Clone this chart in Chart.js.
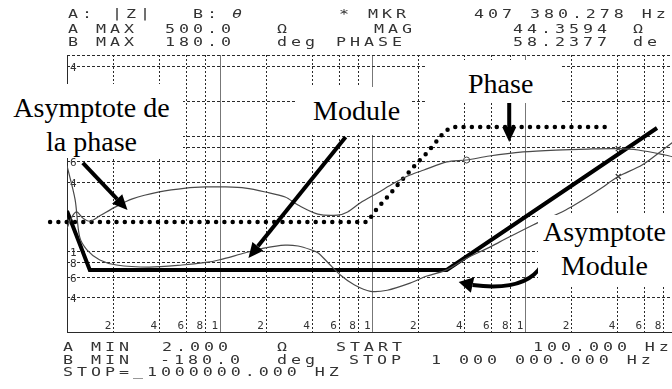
<!DOCTYPE html>
<html>
<head>
<meta charset="utf-8">
<script src="https://cdn.jsdelivr.net/npm/chart.js@4.4.1/dist/chart.umd.min.js"></script>
<style>
  html, body { margin:0; padding:0; background:#fff; overflow:hidden; width:672px; height:389px; }
  #wrap { position:absolute; left:0; top:0; width:683px; height:389px; }
  .lcd { position:absolute; font-family:'DejaVu Sans Mono', monospace; font-size:11.5px; line-height:1;
         letter-spacing:2.72px; transform:scaleX(1.45); transform-origin:0 0; color:#333; white-space:pre; }
  .note { position:absolute; background:#fff; font-family:'Liberation Serif', 'Times New Roman', serif;
          font-size:28px; line-height:34px; color:#000; white-space:nowrap; box-sizing:border-box; }
</style>
</head>
<body>
<div id="wrap"><canvas id="chart"></canvas></div>

<!-- analyzer header -->
<span class="lcd" style="left:68px;top:8.7px">A:</span>
<span class="lcd" style="left:112px;top:8.7px">|Z|</span>
<span class="lcd" style="left:193px;top:8.7px">B:</span>
<span class="lcd" style="left:232px;top:8.7px"><i>θ</i></span>
<span class="lcd" style="left:339px;top:8.7px">*</span>
<span class="lcd" style="left:368px;top:8.7px">MKR</span>
<span class="lcd" style="left:474px;top:8.7px">407 380.278 Hz</span>

<span class="lcd" style="left:68px;top:23.7px">A MAX</span>
<span class="lcd" style="left:165px;top:23.7px">500.0</span>
<span class="lcd" style="left:277px;top:23.7px">Ω</span>
<span class="lcd" style="left:374px;top:23.7px">MAG</span>
<span class="lcd" style="left:513px;top:23.7px">44.3594</span>
<span class="lcd" style="left:633px;top:23.7px">Ω</span>

<span class="lcd" style="left:68px;top:37px">B MAX</span>
<span class="lcd" style="left:165px;top:37px">180.0</span>
<span class="lcd" style="left:277px;top:37px">deg</span>
<span class="lcd" style="left:336px;top:37px">PHASE</span>
<span class="lcd" style="left:513px;top:37px">58.2377</span>
<span class="lcd" style="left:633px;top:37px">de</span>

<!-- analyzer footer -->
<span class="lcd" style="left:63px;top:342px">A MIN</span>
<span class="lcd" style="left:162px;top:342px">2.000</span>
<span class="lcd" style="left:277px;top:342px">Ω</span>
<span class="lcd" style="left:336px;top:342px">START</span>
<span class="lcd" style="left:533px;top:342px">100.000 Hz</span>

<span class="lcd" style="left:63px;top:355px">B MIN</span>
<span class="lcd" style="left:160px;top:355px">-180.0</span>
<span class="lcd" style="left:277px;top:355px">deg</span>
<span class="lcd" style="left:349px;top:355px">STOP</span>
<span class="lcd" style="left:431px;top:355px">1 000 000.000 Hz</span>

<span class="lcd" style="left:63px;top:367px">STOP=_1000000.000 HZ</span>

<!-- hand-made annotations -->
<div class="note" style="left:0;top:84px;width:183px;height:74px;padding-top:7px;text-align:center">Asymptote de<br>la phase</div>
<div class="note" style="left:297px;top:87px;width:113px;height:48px;padding-top:6.5px;padding-left:16px">Module</div>
<div class="note" style="left:425px;top:60px;width:135px;height:43px;padding-top:6.5px;padding-left:43px">Phase</div>
<div class="note" style="left:538px;top:214.5px;width:133px;height:70px;text-align:center">Asymptote<br>Module</div>

<script>
// sweep 100 Hz .. 1 MHz
const phaseFreq = [100, 108, 116, 127, 141, 164, 205, 268, 402, 601, 811, 1094, 1475, 1990, 2683, 3258, 4393,
                   5926, 6883, 8357, 10780, 13890, 17650, 21760, 30690, 41400, 58360, 97000, 158900, 260400,
                   407380, 549900, 823700, 1000000];
const phaseDeg = [-45, -30, -24, -32, -36, -29, -18, -7, 2, 7, 8.5, 8.5, 7, 2, -4.6, -15, -26.7,
                  -28, -24, -12, 0.6, 13.6, 24, 30.5, 41, 43.5, 48.7, 54, 56.5, 57.8,
                  58.24, 56.5, 50, 46];

const magFreq = [100, 113, 121, 135, 164, 211, 345, 566, 811, 986, 1475, 1990, 2683, 3258, 3957, 4393,
                 5105, 6198, 7640, 9710, 12510, 17650, 22750, 30690, 41400, 58360, 67800, 112700, 184600,
                 302600, 407380, 583600, 823700, 1000000];
const magOhm = [55, 28, 13.3, 10.3, 8.4, 7.6, 7.3, 7.6, 8.0, 8.4, 9.7, 10.7, 11.3, 11.1, 10.3, 9.7,
                8.0, 6.2, 5.1, 4.5, 4.6, 5.3, 6.1, 6.9, 8.7, 10.8, 12.0, 16.9, 22.8,
                33.9, 44.36, 55.8, 78, 95];

// asymptotes drawn by hand on the print
const phaseAsymFreq = [77.5, 9280, 10780, 12890, 14970, 17390, 19600, 22750, 26420, 29790, 34060, 335700];
const phaseAsymDeg = [-37, -37, -19, -2, 13.6, 27.9, 39.6, 52.6, 68.2, 81.2, 86.4, 86.4];
const magAsymFreq = [100, 141, 30690, 731000];
const magAsymOhm = [22.3, 6.88, 6.88, 116.7];

const xTicks = [100, 200, 400, 600, 800, 1e3, 2e3, 4e3, 6e3, 8e3, 1e4, 2e4, 4e4, 6e4, 8e4,
                1e5, 2e5, 4e5, 6e5, 8e5, 1e6];
const decades = [1e3, 1e4, 1e5];
const yTicks = [2, 4, 6, 8, 10, 20, 40, 60, 80, 100, 200, 400, 500];

// arrows as [freq, ohm] pairs: start, tip
const arrows = [
    [[127, 58.1], [249, 22.8]],
    [[6680, 97.6], [1543, 8.75]],
    [[78700, 216.7], [78700, 88.3]]
];
// curved one: start, control, head base, tip
const curvedArrow = [[128900, 7.6], [101500, 4.44], [45290, 5.1], [36730, 5.42]];

const pts = (xs, ys) => xs.map((v, i) => ({x: v, y: ys[i]}));
const lcdFont = {family: 'DejaVu Sans Mono', size: 11};

function drawHead(ctx, base, tip, half) {
    let dx = tip[0] - base[0], dy = tip[1] - base[1];
    let l = Math.hypot(dx, dy);
    let nx = -dy / l, ny = dx / l;
    ctx.beginPath();
    ctx.moveTo(tip[0], tip[1]);
    ctx.lineTo(base[0] + nx * half, base[1] + ny * half);
    ctx.lineTo(base[0] - nx * half, base[1] - ny * half);
    ctx.closePath();
    ctx.fill();
}

// dotted screen grid + frequency digits, placed with the chart's scales
const gridPlugin = {
    id: 'screenGrid',
    beforeDatasetsDraw(chart) {
        let ctx = chart.ctx, a = chart.chartArea, x = chart.scales.x, y = chart.scales.y;
        let line = (x1, y1, x2, y2) => { ctx.beginPath(); ctx.moveTo(x1, y1); ctx.lineTo(x2, y2); ctx.stroke(); };
        ctx.save();
        ctx.lineWidth = 1;
        ctx.strokeStyle = '#777';
        decades.forEach(v => {
            let px = Math.round(x.getPixelForValue(v)) + 0.5;
            line(px, a.top, px, a.bottom);
        });
        ctx.strokeStyle = '#2a2a2a';
        ctx.setLineDash([2, 2]);
        xTicks.forEach(v => {
            if (decades.includes(v)) return;
            let px = Math.round(x.getPixelForValue(v)) + 0.5;
            line(px, a.top, px, a.bottom);
        });
        ctx.setLineDash([3, 2]);
        yTicks.forEach(v => {
            let py = Math.round(y.getPixelForValue(v)) + 0.5;
            line(a.left, py, a.right, py);
        });
        ctx.setLineDash([]);
        ctx.fillStyle = '#333';
        ctx.font = '11px "DejaVu Sans Mono"';
        ctx.textAlign = 'center';
        ctx.textBaseline = 'middle';
        xTicks.forEach(v => {
            if (v === 100 || v === 1e6) return;
            ctx.fillText(String(v)[0], x.getPixelForValue(v) - 5, a.bottom - 6);
        });
        ctx.restore();
    }
};

const arrowPlugin = {
    id: 'arrows',
    afterDatasetsDraw(chart) {
        let ctx = chart.ctx, x = chart.scales.x, y = chart.scales.y;
        let px = p => [x.getPixelForValue(p[0]), y.getPixelForValue(p[1])];
        ctx.save();
        ctx.strokeStyle = '#000';
        ctx.fillStyle = '#000';
        ctx.lineWidth = 4;
        arrows.forEach(a => {
            let s = px(a[0]), t = px(a[1]);
            let dx = t[0] - s[0], dy = t[1] - s[1], l = Math.hypot(dx, dy);
            let b = [t[0] - dx / l * 15, t[1] - dy / l * 15];
            ctx.beginPath();
            ctx.moveTo(s[0], s[1]);
            ctx.lineTo(b[0], b[1]);
            ctx.stroke();
            drawHead(ctx, b, t, 7);
        });
        let c = curvedArrow.map(px);
        ctx.beginPath();
        ctx.moveTo(c[0][0], c[0][1]);
        ctx.quadraticCurveTo(c[1][0], c[1][1], c[2][0], c[2][1]);
        ctx.stroke();
        drawHead(ctx, c[2], c[3], 8);
        ctx.restore();
    }
};

new Chart(document.getElementById('chart'), {
    type: 'line',
    data: {
        datasets: [
            {data: pts(phaseFreq, phaseDeg), yAxisID: 'y2', borderColor: '#4a4a4a', borderWidth: 1.2,
             pointRadius: 0, tension: 0.3},
            {data: pts(magFreq, magOhm), yAxisID: 'y', borderColor: '#4a4a4a', borderWidth: 1.2,
             pointRadius: 0, tension: 0.3},
            {data: pts(phaseAsymFreq, phaseAsymDeg), yAxisID: 'y2', borderColor: '#000', borderWidth: 4.5,
             borderDash: [0, 8.3], borderCapStyle: 'round', pointRadius: 0, tension: 0, clip: false},
            {data: pts(magAsymFreq, magAsymOhm), yAxisID: 'y', borderColor: '#000', borderWidth: 4,
             pointRadius: 0, tension: 0},
            {data: [{x: 41400, y: 43.5}], yAxisID: 'y2', showLine: false, pointStyle: 'circle', pointRadius: 3,
             pointBorderColor: '#444', pointBackgroundColor: '#fff', pointBorderWidth: 1},
            {data: [{x: 407380, y: 58.24}], yAxisID: 'y2', showLine: false, pointStyle: 'crossRot',
             pointRadius: 3.5, pointBorderColor: '#333', pointBorderWidth: 1.2},
            {data: [{x: 407380, y: 44.36}], yAxisID: 'y', showLine: false, pointStyle: 'crossRot',
             pointRadius: 3.5, pointBorderColor: '#333', pointBorderWidth: 1.2}
        ]
    },
    options: {
        responsive: true,
        maintainAspectRatio: false,
        animation: false,
        events: [],
        layout: {padding: {left: 67, top: 55, right: 0, bottom: 57}},
        plugins: {legend: {display: false}, tooltip: {enabled: false}},
        scales: {
            x: {
                type: 'logarithmic', min: 100, max: 1e6, position: 'bottom',
                afterFit: s => { s.height = 0; },
                grid: {display: false, drawTicks: false},
                border: {display: true, color: '#2a2a2a', dash: [2, 2]},
                ticks: {display: false}
            },
            y: {
                type: 'logarithmic', min: 2, max: 500, position: 'left',
                afterBuildTicks: s => { s.ticks = yTicks.map(v => ({value: v})); },
                afterFit: s => { s.width = 0; },
                grid: {display: false, drawTicks: false},
                border: {display: true, color: '#2a2a2a', dash: [3, 2]},
                ticks: {mirror: true, padding: 3, labelOffset: 2, color: '#333', font: lcdFont,
                        callback: v => [2, 20, 500].includes(v) ? '' : String(v)[0]}
            },
            y2: {type: 'linear', min: -180, max: 180, display: false}
        }
    },
    plugins: [gridPlugin, arrowPlugin]
});
</script>
</body>
</html>
